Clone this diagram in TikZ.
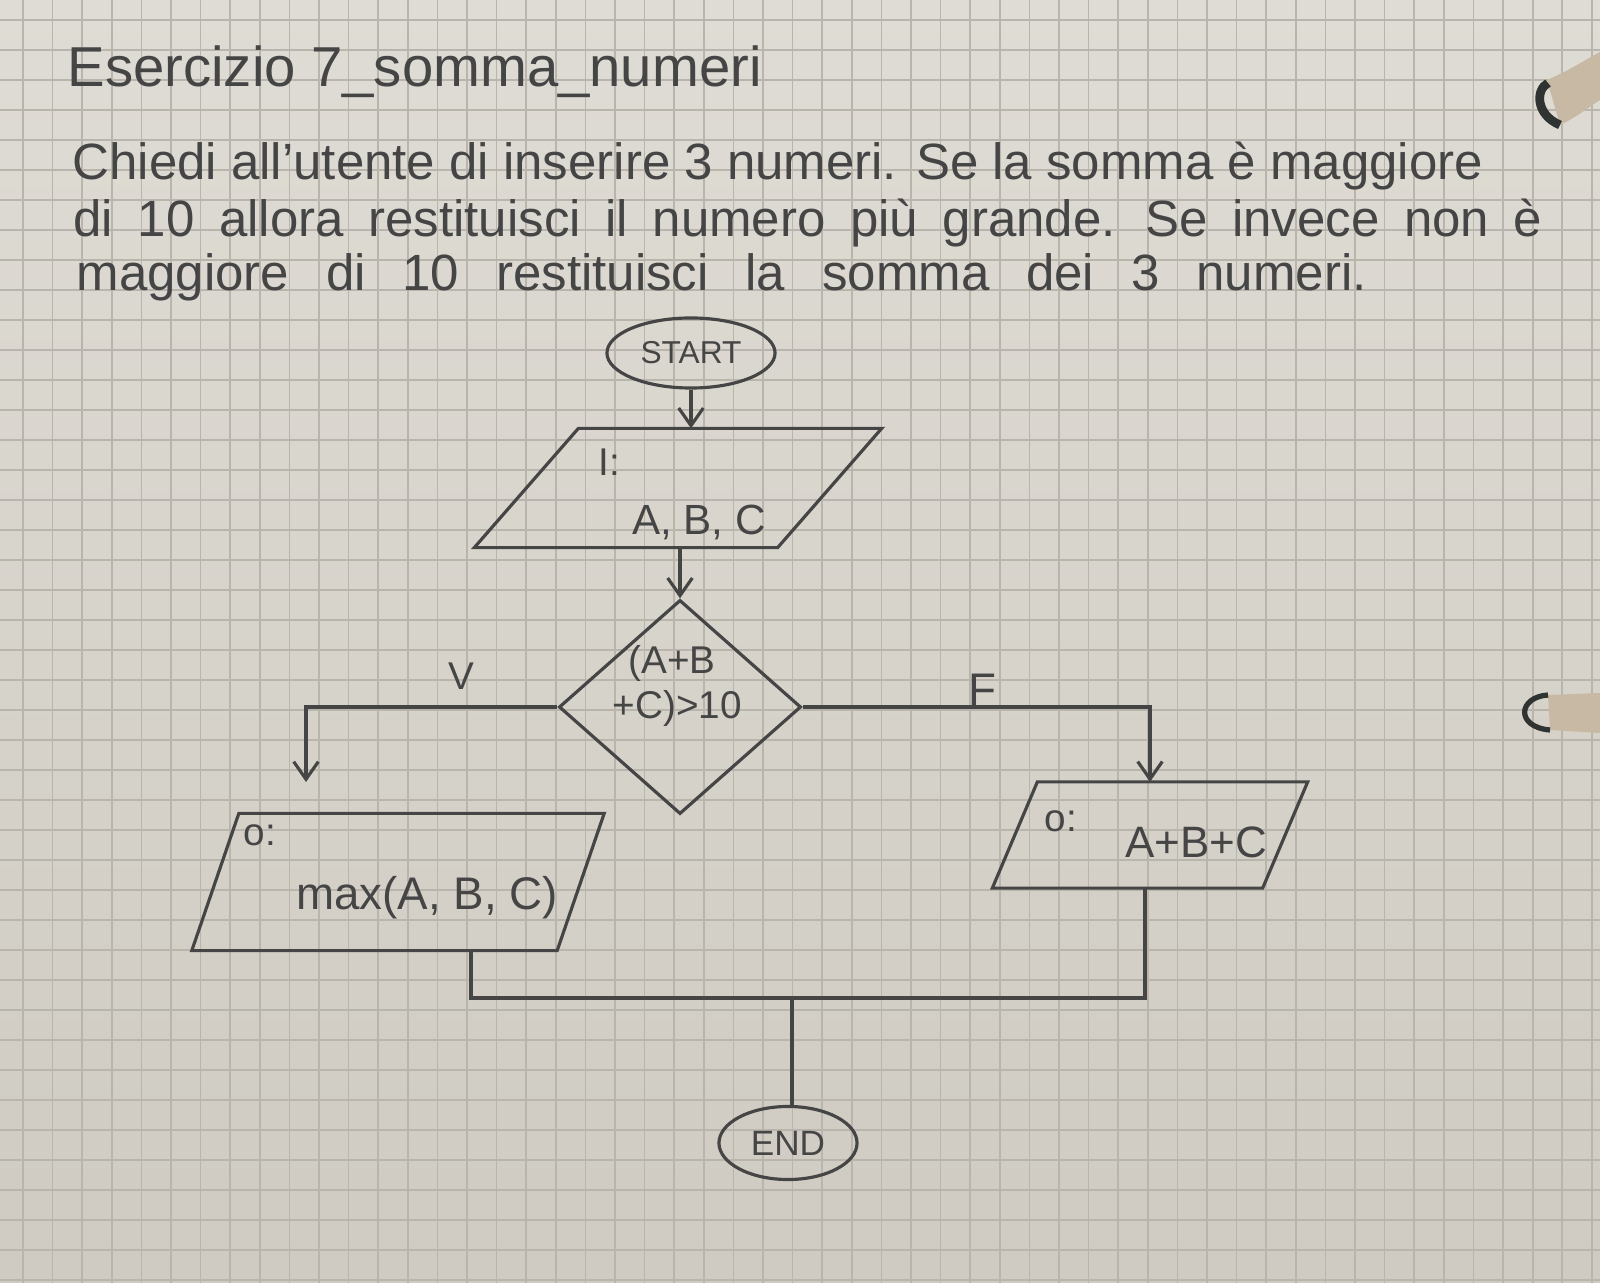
\documentclass[tikz,border=0pt]{standalone}
\usepackage{fontspec}
\setmainfont{Liberation Sans}
\usepackage{xcolor}
\usetikzlibrary{shapes.geometric,arrows.meta,positioning}
\definecolor{ink}{HTML}{454545}
\definecolor{paperhi}{HTML}{DFDCD5}
\definecolor{paperlo}{HTML}{CFCBC2}
\definecolor{gridc}{HTML}{BAB5AC}
\definecolor{ringc}{HTML}{C8B9A4}
\definecolor{ringdark}{HTML}{2F3432}

\begin{document}
\begin{tikzpicture}[x=0.01cm,y=-0.01cm,line width=0.9pt,
  every node/.style={text=ink},
  para/.style={font=\fontsize{14.5}{17}\selectfont,anchor=base west,inner sep=0pt},
  small/.style={font=\fontsize{11}{13}\selectfont,align=center},
  term/.style={draw=ink,ellipse,inner sep=0pt},
  iobox/.style={inner sep=0pt},
  test/.style={draw=ink,diamond,inner sep=0pt},
  arr/.style={draw=ink,-{Straight Barb[length=5pt,width=7pt]}},
  wire/.style={draw=ink},
  gridline/.style={draw=gridc,line width=0.5pt}]

  \useasboundingbox (0,0) rectangle (1600,1283);

  % paper
  \shade[top color=paperhi,bottom color=paperlo] (0,0) rectangle (1600,1283);
  \foreach \k in {0,...,53}
    \draw[gridline] ({23+29.6*\k},0) -- ({23+29.6*\k},1283);
  \foreach \k in {0,...,42}
    \draw[gridline] (0,{20+30*\k}) -- (1600,{20+30*\k});

  % rings
  \fill[ringc] (1547,80) .. controls (1570,70) and (1585,60) .. (1600,52)
    -- (1600,100) .. controls (1585,110) and (1575,118) .. (1560,125) -- cycle;
  \draw[ringdark,line width=2.5pt] (1548,83) .. controls (1535,90) and (1536,115) .. (1560,125);
  \fill[ringc] (1548,695) -- (1600,693) -- (1600,733) -- (1550,730) -- cycle;
  \draw[ringdark,line width=1.5pt] (1548,695) .. controls (1518,697) and (1515,727) .. (1550,730);

  % testo
  \node[para,font=\fontsize{16}{19}\selectfont] (title) at (66,87) {Esercizio 7\_somma\_numeri};
  \node[para] (l1) at (71,180) {Chiedi all'utente di inserire 3 numeri. Se la somma è maggiore};
  \node[para] (l2) at (72,237) {\spaceskip=7pt di 10 allora restituisci il numero più grande. Se invece non è};
  \node[para] (l3) at (75,291) {\spaceskip=10.5pt maggiore di 10 restituisci la somma dei 3 numeri.};

  % START
  \node[term,minimum width=1.68cm,minimum height=0.70cm,font=\fontsize{9}{11}\selectfont] (start) at (691,353) {START};

  % I: A, B, C
  \def \s {0.52cm}
  \node[iobox,minimum width=3.00cm,minimum height=1.16cm] (in) at (678,488) {};
  \draw[ink] ([xshift=\s]in.north west) -- ([xshift=\s]in.north east)
    -- ([xshift=-\s]in.south east) -- ([xshift=-\s]in.south west) -- cycle;
  \node[small] (inlbl) at (609,462) {I:};
  \node[font=\fontsize{12}{14}\selectfont] (invar) at (699,522) {A, B, C};

  % test
  \node[test,minimum width=2.42cm,minimum height=2.14cm] (dec) at (680,707) {};
  \node[small] (cond) at (672,686) {(A+B\\ \ +C)>10};
  \node[small] (vlbl) at (461,676) {V};
  \node[small,font=\fontsize{13}{15}\selectfont] (flbl) at (982,690) {F};

  % o: max
  \def \s {0.235cm}
  \node[iobox,minimum width=3.62cm,minimum height=1.34cm] (out1) at (398,882) {};
  \draw[ink] ([xshift=\s]out1.north west) -- ([xshift=\s]out1.north east)
    -- ([xshift=-\s]out1.south east) -- ([xshift=-\s]out1.south west) -- cycle;
  \node[small] (o1lbl) at (260,835) {o:};
  \node[font=\fontsize{13}{15}\selectfont] (max) at (427,898) {max(A, B, C)};

  % o: somma
  \def \s {0.225cm}
  \node[iobox,minimum width=2.67cm,minimum height=1.03cm] (out2) at (1150,835) {};
  \draw[ink] ([xshift=\s]out2.north west) -- ([xshift=\s]out2.north east)
    -- ([xshift=-\s]out2.south east) -- ([xshift=-\s]out2.south west) -- cycle;
  \node[small] (o2lbl) at (1061,821) {o:};
  \node[font=\fontsize{12.5}{15}\selectfont] (sum) at (1196,842) {A+B+C};

  % END
  \node[term,minimum width=1.38cm,minimum height=0.73cm,font=\fontsize{10}{12}\selectfont] (end) at (788,1143) {END};

  \coordinate (vtip) at (306,782);
  \coordinate (jl) at (471,998);
  \coordinate (jr) at (1145,998);
  \coordinate (jm) at (792,998);

  %collegamenti
  \draw[arr] (start.south) -- (start.south |- in.north);
  \draw[arr] (in.south -| dec.north) -- (dec.north);
  \draw[arr] (dec.west) -| (vtip);
  \draw[arr] (dec.east) -| (out2.north);
  \draw[wire] (out1.south -| jl) -- (jl) -- (jr) -- (out2.south -| jr);
  \draw[wire] (jm) -- (jm |- end.north);

\end{tikzpicture}
\end{document}
